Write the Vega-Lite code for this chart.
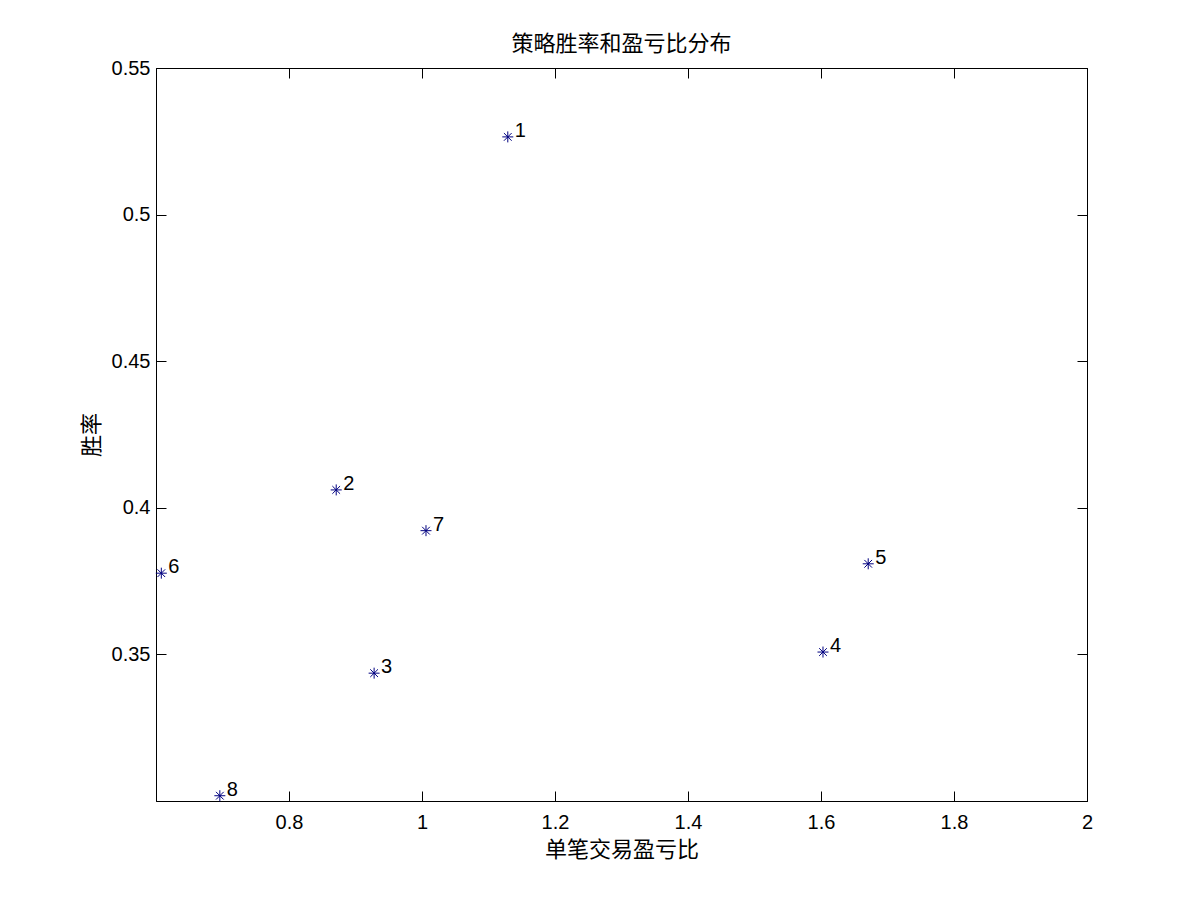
{
  "$schema": "https://vega.github.io/schema/vega-lite/v6.json",
  "description": "策略胜率和盈亏比分布 scatter",
  "autosize": {"type": "none"},
  "padding": {"left": 156, "top": 68, "right": 114, "bottom": 100},
  "width": 931,
  "height": 733,
  "background": "white",
  "title": {
    "text": "策略胜率和盈亏比分布",
    "font": "Noto Sans CJK SC",
    "fontSize": 22,
    "fontWeight": "normal",
    "color": "black",
    "anchor": "middle",
    "offset": 2
  },
  "data": {
    "values": [
      {"id": "1", "ratio": 1.129, "winrate": 0.5265},
      {"id": "2", "ratio": 0.871, "winrate": 0.4061},
      {"id": "3", "ratio": 0.928, "winrate": 0.3436},
      {"id": "4", "ratio": 1.603, "winrate": 0.3508},
      {"id": "5", "ratio": 1.671, "winrate": 0.3809},
      {"id": "6", "ratio": 0.608, "winrate": 0.3777},
      {"id": "7", "ratio": 1.006, "winrate": 0.3922},
      {"id": "8", "ratio": 0.696, "winrate": 0.3018}
    ]
  },
  "layer": [
    {
      "mark": {
        "type": "point",
        "shape": "M-1,0H1M0,-1V1M-0.7,-0.7L0.7,0.7M-0.7,0.7L0.7,-0.7",
        "filled": false,
        "size": 121,
        "strokeWidth": 1,
        "color": "#000080",
        "opacity": 1
      },
      "encoding": {
        "x": {
          "field": "ratio", "type": "quantitative",
          "scale": {"domain": [0.6, 2], "nice": false, "zero": false},
          "axis": {
            "orient": "bottom",
            "title": "单笔交易盈亏比",
            "values": [0.8, 1, 1.2, 1.4, 1.6, 1.8, 2],
            "format": "~g",
            "grid": false,
            "tickSize": -10,
            "labelPadding": 21,
            "labelFlush": false,
            "titlePadding": 7
          }
        },
        "y": {
          "field": "winrate", "type": "quantitative",
          "scale": {"domain": [0.3, 0.55], "nice": false, "zero": false},
          "axis": {
            "orient": "left",
            "title": "胜率",
            "values": [0.35, 0.4, 0.45, 0.5, 0.55],
            "format": "~g",
            "grid": false,
            "tickSize": -10,
            "labelPadding": 16,
            "labelFlush": false,
            "titlePadding": 8
          }
        }
      }
    },
    {
      "mark": {
        "type": "text",
        "align": "left",
        "baseline": "middle",
        "dx": 7,
        "dy": -6,
        "font": "Liberation Sans",
        "fontSize": 20,
        "color": "black"
      },
      "encoding": {
        "x": {"field": "ratio", "type": "quantitative", "axis": null},
        "y": {"field": "winrate", "type": "quantitative", "axis": null},
        "text": {"field": "id"}
      }
    },
    {
      "mark": {"type": "point", "opacity": 0},
      "encoding": {
        "x": {
          "field": "ratio", "type": "quantitative",
          "axis": {
            "orient": "top",
            "title": null,
            "labels": false,
            "values": [0.8, 1, 1.2, 1.4, 1.6, 1.8, 2],
            "grid": false,
            "tickSize": -10
          }
        },
        "y": {
          "field": "winrate", "type": "quantitative",
          "axis": {
            "orient": "right",
            "title": null,
            "labels": false,
            "values": [0.35, 0.4, 0.45, 0.5, 0.55],
            "grid": false,
            "tickSize": -10
          }
        }
      }
    }
  ],
  "resolve": {"axis": {"x": "independent", "y": "independent"}},
  "config": {
    "view": {"stroke": "black", "strokeWidth": 1},
    "axis": {
      "domainColor": "black",
      "domainWidth": 1,
      "tickColor": "black",
      "tickWidth": 1,
      "labelColor": "black",
      "labelFont": "Liberation Sans",
      "labelFontSize": 20,
      "titleFont": "Noto Sans CJK SC",
      "titleFontSize": 22,
      "titleFontWeight": "normal",
      "titleColor": "black"
    }
  }
}
